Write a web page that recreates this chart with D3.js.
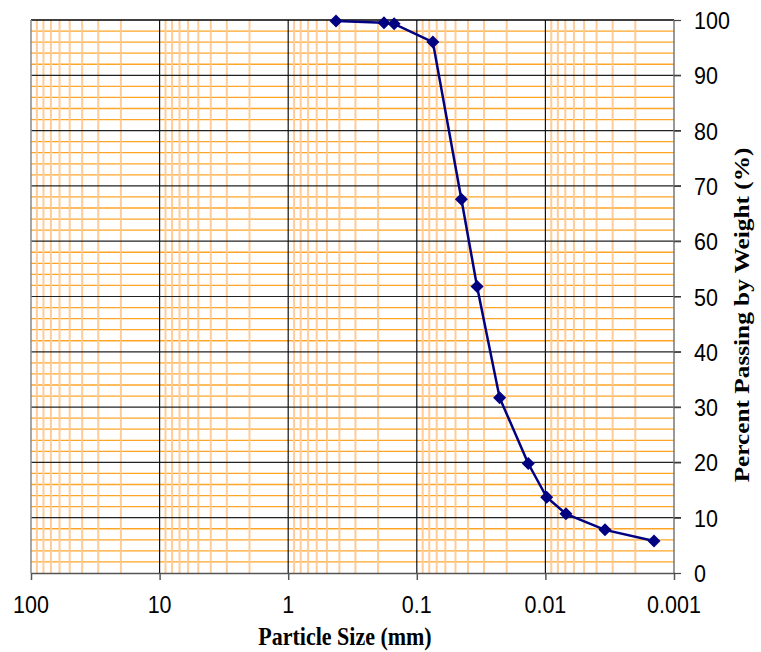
<!DOCTYPE html>
<html><head><meta charset="utf-8">
<script src="https://cdn.jsdelivr.net/npm/d3@7"></script>
<style>body{margin:0;background:#fff}svg{display:block}</style>
</head><body>
<script>
// Data
const particleSize = [0.425, 0.18, 0.15, 0.075, 0.045, 0.034, 0.0227, 0.0136, 0.00977, 0.00692, 0.00344, 0.00143];
const percentPassing = [99.8, 99.5, 99.3, 96, 67.6, 51.8, 31.7, 19.8, 13.7, 10.7, 7.8, 5.8];
const xTicks = [100, 10, 1, 0.1, 0.01, 0.001];
const xTickLabels = ["100", "10", "1", "0.1", "0.01", "0.001"];
const yTicks = [0, 10, 20, 30, 40, 50, 60, 70, 80, 90, 100];
const xTitle = "Particle Size (mm)";
const yTitle = "Percent Passing by Weight (%)";

const W = 761, H = 652;
const L = 31, R = 674, T = 20, B = 573;

const svg = d3.select("body").append("svg").attr("width", W).attr("height", H);
const x = d3.scaleLog().domain([100, 0.001]).range([L, R]);
const y = d3.scaleLinear().domain([0, 100]).range([B, T]);

// minor vertical gridlines
const minorX = [];
xTicks.slice(0, -1).forEach(d => { for (let k = 2; k <= 9; k++) minorX.push(d / 10 * k); });
// minor horizontal gridlines
const minorY = d3.range(2, 100, 2).filter(v => v % 10 !== 0);

const g = svg.append("g");
g.selectAll(".hmin").data(minorY).join("line")
  .attr("x1", L).attr("x2", R).attr("y1", d => y(d)).attr("y2", d => y(d))
  .attr("stroke", "#ffa526").attr("stroke-width", 1.3);
g.selectAll(".vmin").data(minorX).join("line")
  .attr("x1", d => x(d)).attr("x2", d => x(d)).attr("y1", T).attr("y2", B)
  .attr("stroke", "#ffcc99").attr("stroke-width", 2);
// major gridlines
g.selectAll(".hmaj").data(yTicks.filter(d => d > 0 && d < 100)).join("line")
  .attr("x1", L).attr("x2", R + 7).attr("y1", d => y(d)).attr("y2", d => y(d))
  .attr("stroke", "#222").attr("stroke-width", 1.2);
g.selectAll(".vmaj").data(xTicks.filter(d => d < 100 && d > 0.001)).join("line")
  .attr("x1", d => x(d)).attr("x2", d => x(d)).attr("y1", T).attr("y2", B)
  .attr("stroke", "#111").attr("stroke-width", 1.2);

// borders
g.append("line").attr("x1", L).attr("x2", R).attr("y1", T).attr("y2", T).attr("stroke", "#000").attr("stroke-width", 1.3);
g.append("line").attr("x1", L).attr("x2", L).attr("y1", T).attr("y2", B).attr("stroke", "#888").attr("stroke-width", 1.5);
g.append("line").attr("x1", R).attr("x2", R).attr("y1", T).attr("y2", B).attr("stroke", "#777").attr("stroke-width", 1.5);

// axes
const xAxis = d3.axisBottom(x).tickValues(xTicks).tickFormat((d, i) => xTickLabels[i]).tickSize(7).tickSizeOuter(0);
const xa = svg.append("g").attr("transform", `translate(0,${B})`).call(xAxis);
xa.select(".domain").attr("stroke", "#555").attr("stroke-width", 1.5);
xa.selectAll(".tick line").attr("stroke", "#555").attr("stroke-width", 1.5);
xa.selectAll(".tick text").text(null);

const yAxis = d3.axisRight(y).tickValues(yTicks).tickSize(7).tickSizeOuter(0).tickFormat(d3.format("d"));
const ya = svg.append("g").attr("transform", `translate(${R},0)`).call(yAxis);
ya.select(".domain").remove();
ya.selectAll(".tick line").attr("stroke", "#444").attr("stroke-width", 1.2);
ya.selectAll(".tick text").text(null);

// tick labels (vertically stretched like the reference)
const lblFont = "'Liberation Sans', Arial, sans-serif";
xTicks.forEach((d, i) => {
  svg.append("text").attr("transform", `translate(${x(d)},613) scale(1,1.15)`)
    .attr("text-anchor", "middle").attr("font-family", lblFont).attr("font-size", 21.5)
    .attr("fill", "#000").text(xTickLabels[i]);
});
yTicks.forEach(d => {
  svg.append("text").attr("transform", `translate(694,${y(d) + 9}) scale(1,1.15)`)
    .attr("text-anchor", "start").attr("font-family", lblFont).attr("font-size", 21.5)
    .attr("fill", "#000").text(String(d));
});

// titles
const titleFont = "'Liberation Serif', 'Times New Roman', serif";
svg.append("text").attr("transform", "translate(345,645) scale(1,1.15)")
  .attr("text-anchor", "middle").attr("font-family", titleFont).attr("font-weight", "bold")
  .attr("font-size", 22).text(xTitle);
svg.append("text").attr("transform", "translate(749,315) rotate(-90) scale(1.15,1)")
  .attr("text-anchor", "middle").attr("font-family", titleFont).attr("font-weight", "bold")
  .attr("font-size", 22).text(yTitle);

// data line & markers
const pts = particleSize.map((s, i) => [s, percentPassing[i]]);
svg.append("path").datum(pts)
  .attr("d", d3.line().x(d => x(d[0])).y(d => y(d[1])))
  .attr("fill", "none").attr("stroke", "#000080").attr("stroke-width", 2.5);
svg.selectAll(".pt").data(pts).join("path")
  .attr("transform", d => `translate(${x(d[0])},${y(d[1])})`)
  .attr("d", "M0,-6.5L6.5,0L0,6.5L-6.5,0Z")
  .attr("fill", "#000080");
</script>
</body></html>
